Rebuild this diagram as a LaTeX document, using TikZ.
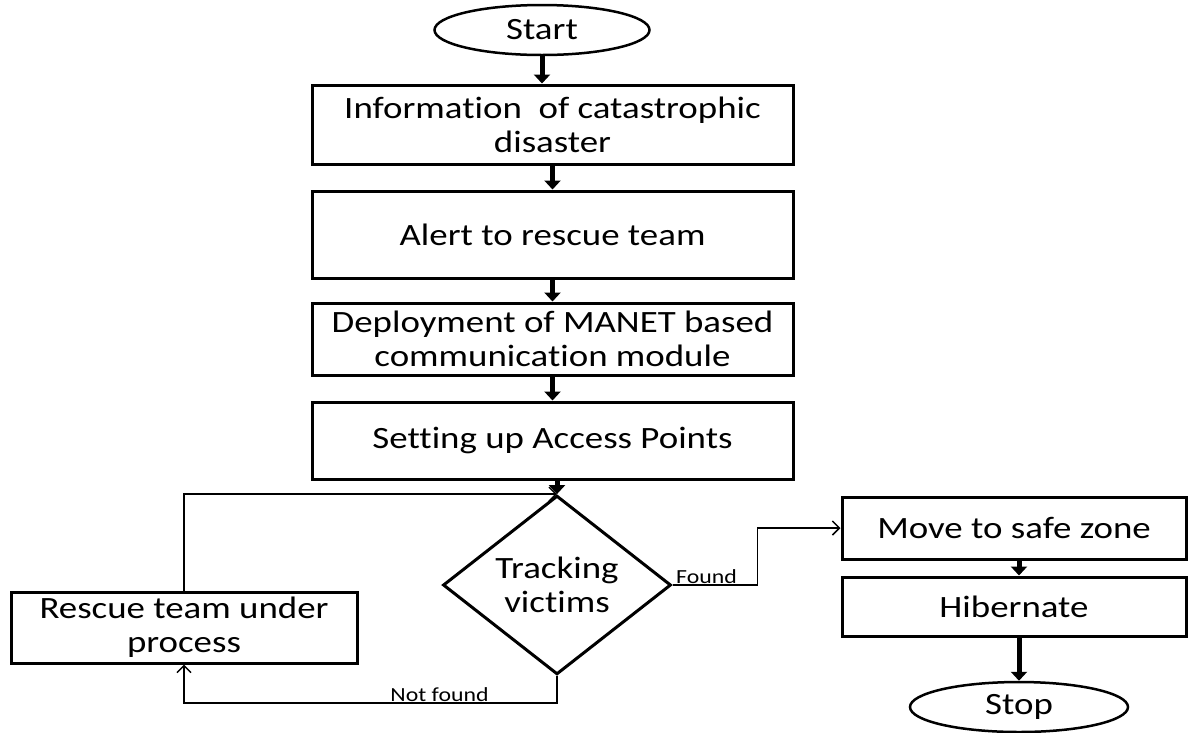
\documentclass[tikz,border=0pt]{standalone}
\usepackage{fontspec}
\setmainfont{Carlito}[FakeStretch=1.19, Ligatures={NoCommon,NoContextual}]
\usetikzlibrary{shapes.geometric,arrows.meta,calc}
\begin{document}
\begin{tikzpicture}[x=1pt,y=-1pt,
  bigfont/.style={font=\fontsize{31}{34}\selectfont},
  box/.style={draw, line width=3pt, inner sep=0pt, align=center, bigfont},
  term/.style={draw, ellipse, line width=2.5pt, inner sep=0pt, bigfont},
  decision/.style={draw, diamond, line width=3pt, inner sep=0pt, align=center, bigfont,
    minimum width=228pt, minimum height=156pt},
  thickarrow/.style={line width=5pt, -{Triangle[width=16pt,length=9pt]}},
  thinarrow/.style={line width=1.5pt, -{Straight Barb[width=14pt,length=7pt]}},
  lab/.style={font=\fontsize{20}{22}\selectfont, inner sep=1pt}
]
\useasboundingbox (0,0) rectangle (1188,732);

\node[term, minimum width=215pt, minimum height=50pt] (start) at (542,30) {Start};
\node[box, minimum width=481pt, minimum height=79pt] (info) at (552.5,124.5) {Information~ of catastrophic\\disaster};
\node[box, minimum width=481pt, minimum height=87pt] (alert) at (552.5,234.5) {Alert to rescue team};
\node[box, minimum width=481pt, minimum height=72pt] (deploy) at (552.5,339) {Deployment of MANET based\\communication module};
\node[box, minimum width=481pt, minimum height=77pt] (access) at (552.5,440.5) {Setting up Access Points};
\node[decision] (track) at (557,585) {Tracking\\victims};
\node[box, minimum width=346pt, minimum height=71pt] (rescue) at (184,627.5) {Rescue team under\\process};
\node[box, minimum width=344pt, minimum height=62pt] (move) at (1014,528) {Move to safe zone};
\node[box, minimum width=344pt, minimum height=59pt] (hib) at (1014,606.5) {Hibernate};
\node[term, minimum width=218pt, minimum height=50pt] (stop) at (1019,707) {Stop};

% thin connectors
\draw[thinarrow] (rescue.north) |- (track.north);
\draw[thinarrow] (track.east) -- node[lab, above, pos=0.4] (found) {Found} ++(85,0) |- (move.west);
\draw[thinarrow] (track.south) -- ++(0,27) -| node[lab, above, pos=0.1575] (notfound) {Not found} (rescue.south);

% thick arrows
\draw[thickarrow] (start.south) -- (start.south |- info.north);
\draw[thickarrow] (info.south) -- (alert.north);
\draw[thickarrow] (alert.south) -- (deploy.north);
\draw[thickarrow] (deploy.south) -- (access.north);
\draw[thickarrow] (access.south -| track.north) -- (track.north);
\draw[thickarrow] (move.south -| stop.north) -- (hib.north -| stop.north);
\draw[thickarrow] (hib.south -| stop.north) -- (stop.north);
\end{tikzpicture}
\end{document}
